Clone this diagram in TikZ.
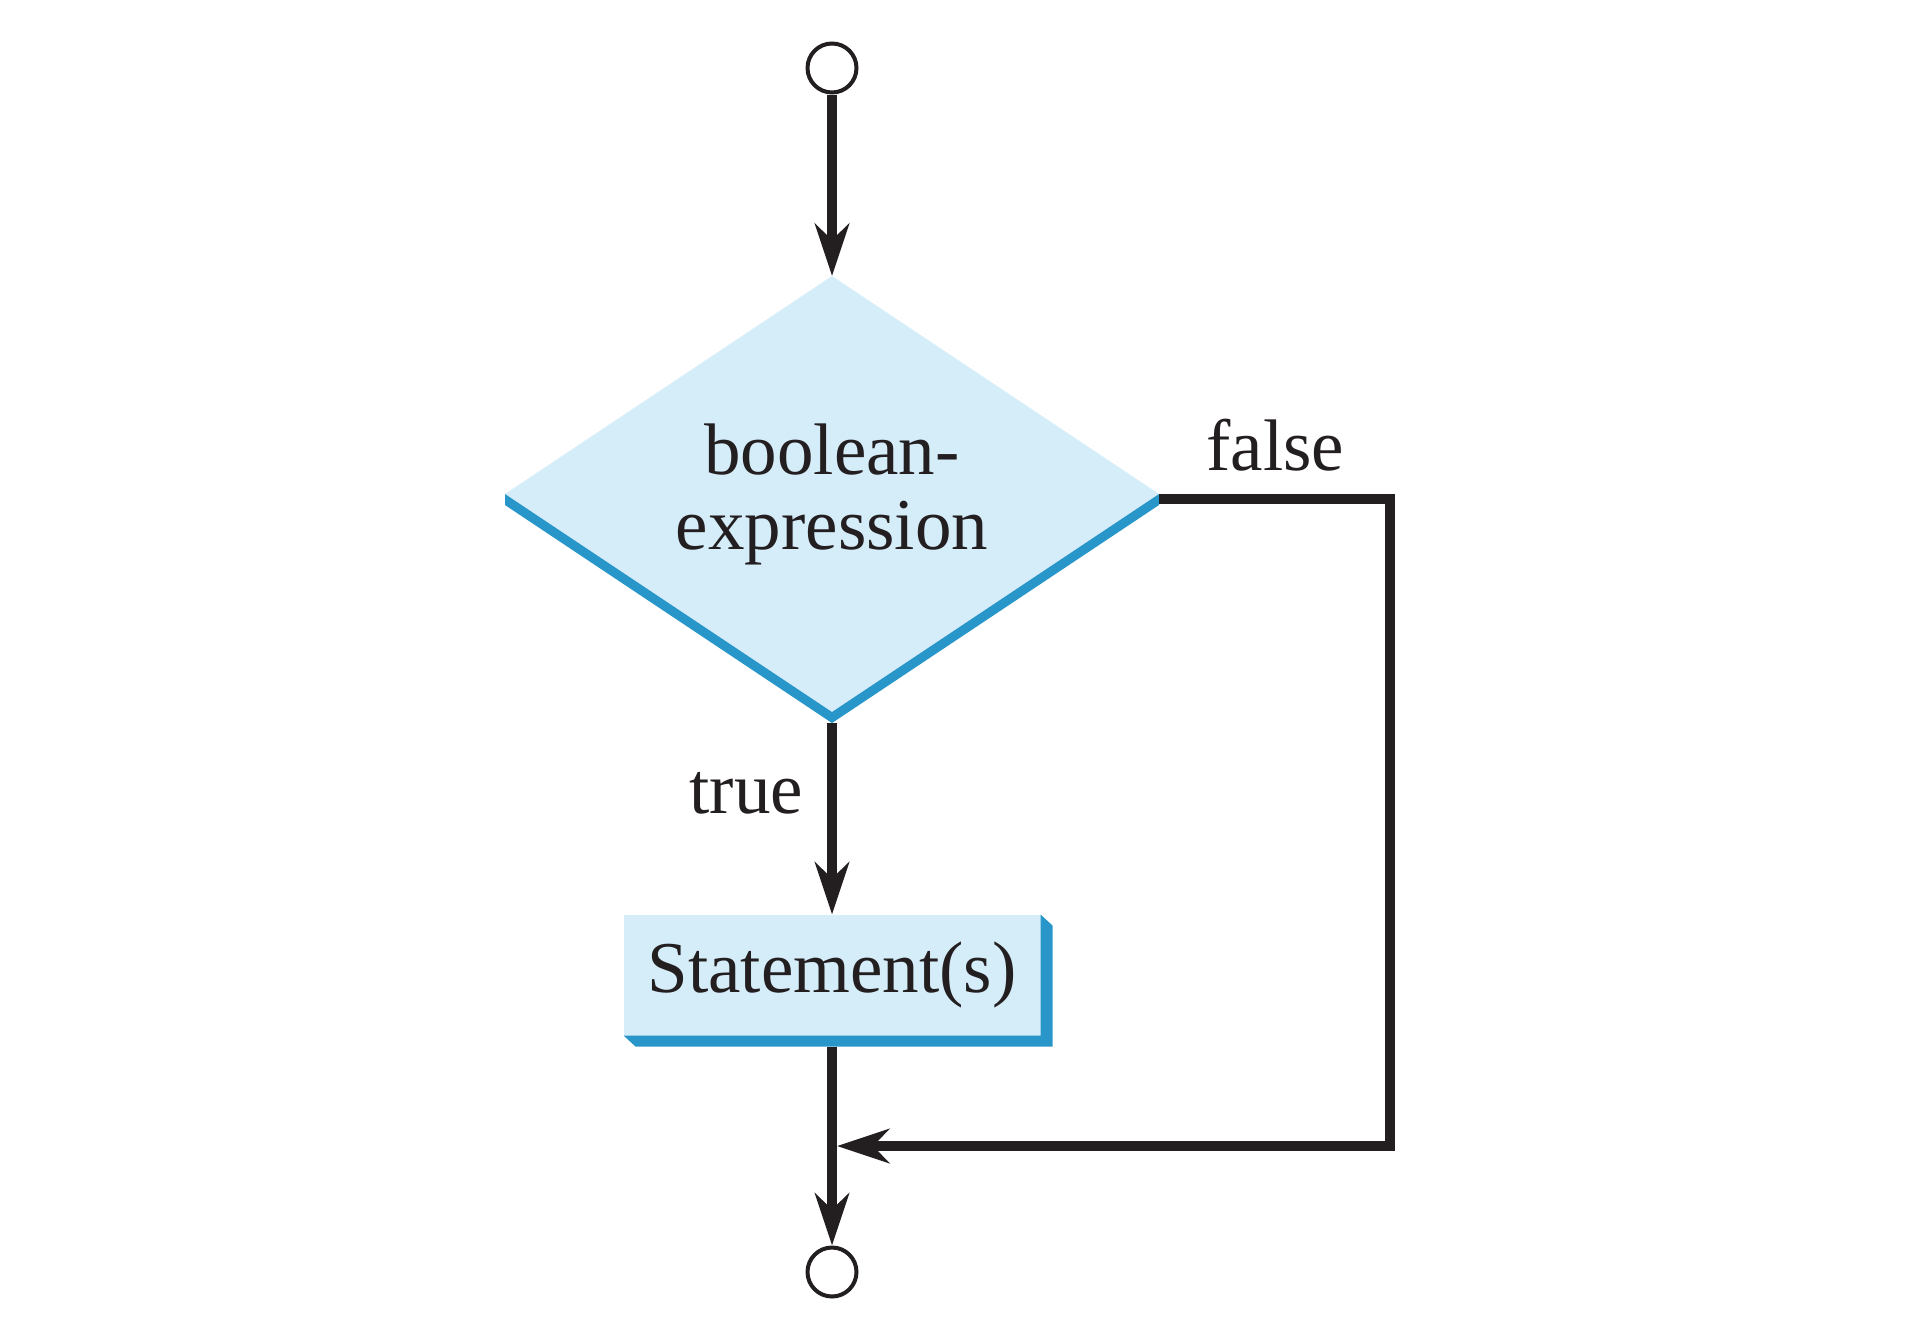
\documentclass[tikz,border=0pt]{standalone}
\usepackage{fontspec}
\setmainfont{Liberation Serif}
\usetikzlibrary{shapes.geometric,arrows.meta,calc}
\definecolor{ink}{RGB}{35,31,32}
\definecolor{boxfill}{RGB}{213,236,249}
\definecolor{edgeblue}{RGB}{41,150,202}
\begin{document}
\begin{tikzpicture}[x=1pt,y=-1pt,
  txt/.style={font=\fontsize{73}{75}\selectfont, text=ink},
  terminal/.style={circle, draw=ink, line width=4pt, fill=white,
    minimum size=49pt, inner sep=0pt},
  decision/.style={diamond, aspect=1.5, fill=boxfill, minimum width=654pt,
    minimum height=436pt, inner sep=0pt, outer sep=0pt, align=center, txt},
  process/.style={rectangle, fill=boxfill, minimum width=417pt,
    minimum height=121pt, inner sep=0pt, outer sep=0pt, txt},
  flow/.style={draw=ink, line width=10pt,
    -{Stealth[length=52pt,width=34pt,inset=16pt]}},
  edgeband/.style={fill=edgeblue}]
\useasboundingbox (0,0) rectangle (1932,1338);

% start and end terminals
\node[terminal] (start) at (832,68) {};
\node[terminal] (stop) at (832,1272) {};

% decision with its lower blue edge
\node[decision] (cond) at (832,494) {boolean-\\expression};
\fill[edgeband] (cond.west) -- (cond.south) -- (cond.east)
  -- ([yshift=-11pt]cond.east) -- ([yshift=-11pt]cond.south)
  -- ([yshift=-11pt]cond.west) -- cycle;

% loop body with its extruded edge
\node[process] (body) at (832,975) {Statement(s)};
\fill[edgeband] (body.north east) -- ++(12,11)
  -- ($(body.south east)+(12,11)$) -- ($(body.south west)+(12,11)$)
  -- (body.south west) -- (body.south east) -- cycle;

% routing points of the false branch
\coordinate (corner) at (1390,1146);
\coordinate (join) at (832,1146);

% connectors
\draw[flow] (start) -- (cond.north);
\draw[flow] ([yshift=-11pt]cond.south) -- (body.north);
\draw[flow] ([yshift=-11pt]body.south) -- (stop);
\draw[flow, shorten >=5pt] ([yshift=-5pt]cond.east) -| (corner) -- (join);

% branch labels
\node[txt, anchor=base west] (tlabel) at (686,813) {true};
\node[txt, anchor=base west] (flabel) at (1203,470) {false};
\end{tikzpicture}
\end{document}
